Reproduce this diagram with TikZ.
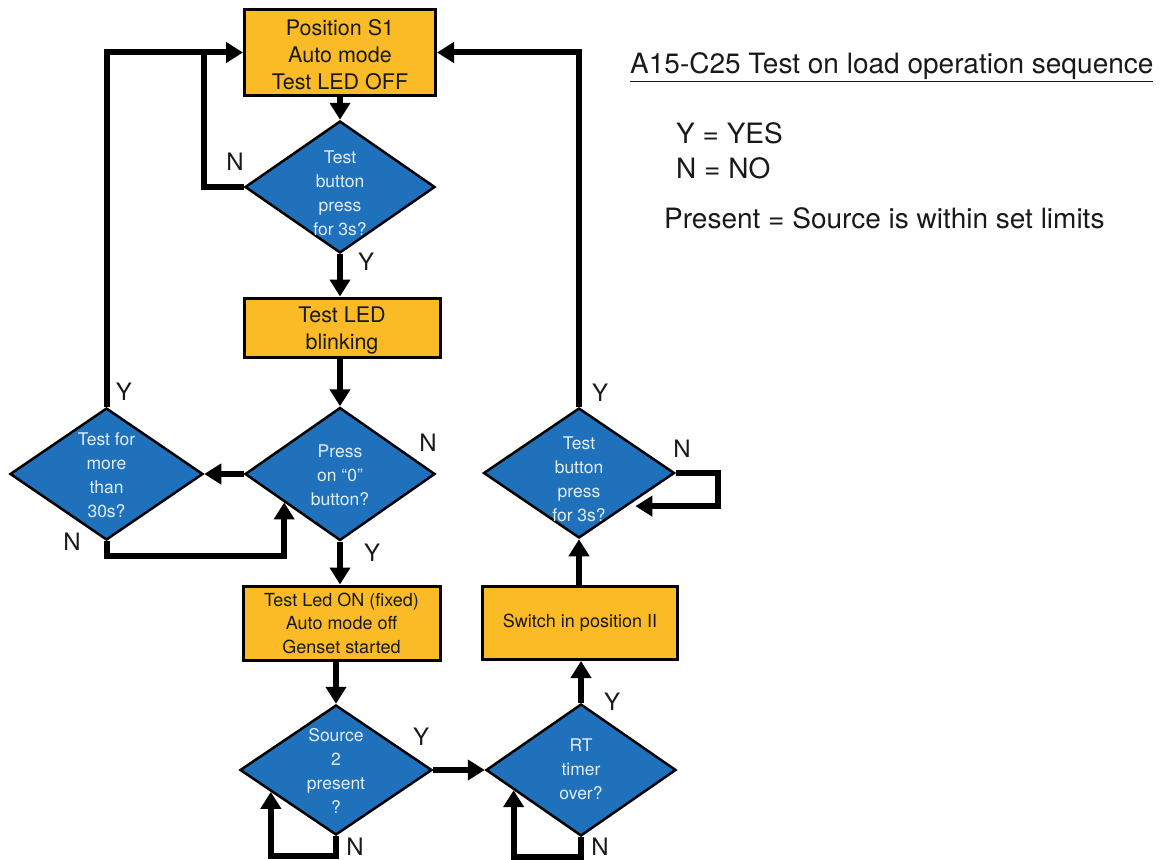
\documentclass[tikz,border=0pt]{standalone}
\usepackage{fontspec}
\setmainfont{TeX Gyre Heros}
\usetikzlibrary{shapes.geometric,arrows.meta,calc}
\definecolor{boxorange}{RGB}{251,187,38}
\definecolor{diablue}{RGB}{30,113,186}
\definecolor{diatext}{RGB}{228,236,248}
\definecolor{ink}{RGB}{25,25,25}
\begin{document}
\begin{tikzpicture}[x=1pt,y=-1pt,
  procbox/.style={draw=black,line width=3pt,fill=boxorange,inner sep=0pt,align=center,text=ink},
  bigtext/.style={font=\fontsize{21.5}{27}\selectfont},
  smalltext/.style={font=\fontsize{18}{23.5}\selectfont},
  decision/.style={shape=diamond,draw=black,line width=2.5pt,fill=diablue,inner sep=0pt},
  dtext/.style={text=diatext,align=center,font=\fontsize{17.5}{24}\selectfont},
  flow/.style={line width=6pt,-{Triangle[length=17pt,width=20pt]}},
  plain/.style={line width=6pt},
  yn/.style={font=\fontsize{24}{24}\selectfont,text=ink,inner sep=0pt},
  legend/.style={font=\fontsize{28}{28}\selectfont,text=ink,inner sep=0pt,anchor=west}
]
\useasboundingbox (0,0) rectangle (1166,859);

% process boxes
\node[procbox,minimum width=191pt,minimum height=85pt] (b1) at (340,52.5) {};
\node[bigtext,align=center,text=ink,inner sep=0pt] (b1t) at ($(b1)+(0,2)$) {Position S1\\Auto mode\\Test LED OFF};
\node[procbox,minimum width=196pt,minimum height=59pt] (b2) at (342,327.5) {};
\node[bigtext,align=center,text=ink,inner sep=0pt] (b2t) at ($(b2)+(0,3)$) {Test LED\\blinking};
\node[procbox,smalltext,minimum width=197pt,minimum height=74pt] (b3) at (341.5,623) {Test Led ON (fixed)\\Auto mode off\\Genset started};
\node[procbox,smalltext,minimum width=195pt,minimum height=73pt] (b4) at (580,623) {Switch in position II};

% decisions
\node[decision,minimum width=190pt,minimum height=132pt,label={[dtext,yshift=-6pt]center:{Test\\button\\press\\for 3s?}}] (d1) at (340,187) {};
\node[decision,minimum width=190pt,minimum height=133pt,label={[dtext,yshift=-1pt]center:{Press\\on “0”\\button?}}] (d2) at (340,474) {};
\node[decision,minimum width=193pt,minimum height=132pt,label={[dtext,yshift=-1pt]center:{Test for\\more\\than\\30s?}}] (d3) at (106.5,474) {};
\node[decision,minimum width=192pt,minimum height=130pt,label={[dtext,yshift=-1pt]center:{Source\\2\\present\\?}}] (d4) at (336,770) {};
\node[decision,minimum width=190pt,minimum height=132pt,label={[dtext,yshift=1pt]center:{RT\\timer\\over?}}] (d5) at (581,770) {};
\node[decision,minimum width=191pt,minimum height=130pt,label={[dtext,yshift=-6pt]center:{Test\\button\\press\\for 3s?}}] (d6) at (579,473) {};

% helper coordinates
\coordinate (j1) at ($(b1.west)+(-39,-3)$);
\coordinate (c2) at ($(d2.west)!0.42!(d2.south)$);
\coordinate (c4) at ($(d4.west)!0.33!(d4.south)$);
\coordinate (c5) at ($(d5.west)!0.30!(d5.south)$);
\coordinate (c6) at ($(d6.east)!0.5!(d6.south)$);

% connectors
\draw[flow] (b1.south) -- (d1.north);
\draw[flow] (d1.south) -- (d1.south |- b2.north);
\draw[flow] (d2.north |- b2.south) -- (d2.north);
\draw[flow] (d2.south) -- (d2.south |- b3.north);
\draw[flow] (d4.north |- b3.south) -- (d4.north);
\draw[flow] (d4.east) -- (d5.west);
\draw[flow] (d5.north) -- (d5.north |- b4.south);
\draw[flow] (d6.south |- b4.north) -- (d6.south);
\draw[flow] (d6.north) |- (b1.east);
\draw[flow] (d3.north) |- (b1.west);
\draw[plain] (d1.west) -| (j1);
\draw[flow] (d2.west) -- (d3.east);
\draw[flow] (d3.south) -- ++(0,15) -| (c2);
\draw[flow] (d4.south) -- ++(0,20) -| (c4);
\draw[flow] (d5.south) -- ++(0,20) -| (c5);
\draw[flow,shorten >=8pt] (d6.east) -- ++(42,0) |- (c6);

% Y / N labels
\node[yn] (n1) at (235,162) {N};
\node[yn] (y1) at (366,262) {Y};
\node[yn] (y3) at (124,392) {Y};
\node[yn] (n2) at (428,443) {N};
\node[yn] (n3) at (72,542) {N};
\node[yn] (y2) at (372,553) {Y};
\node[yn] (y4) at (421,737) {Y};
\node[yn] (n4) at (355,847) {N};
\node[yn] (n5) at (600,847) {N};
\node[yn] (y5) at (612,702) {Y};
\node[yn] (y6) at (600,393) {Y};
\node[yn] (n6) at (682,449) {N};

% legend
\node[legend] (title) at (630,67) {\underline{A15-C25 Test on load operation sequence}};
\node[legend] (ly) at (676,133) {Y = YES};
\node[legend] (ln) at (676,168) {N = NO};
\node[legend] (lp) at (664,218) {Present = Source is within set limits};
\end{tikzpicture}
\end{document}
